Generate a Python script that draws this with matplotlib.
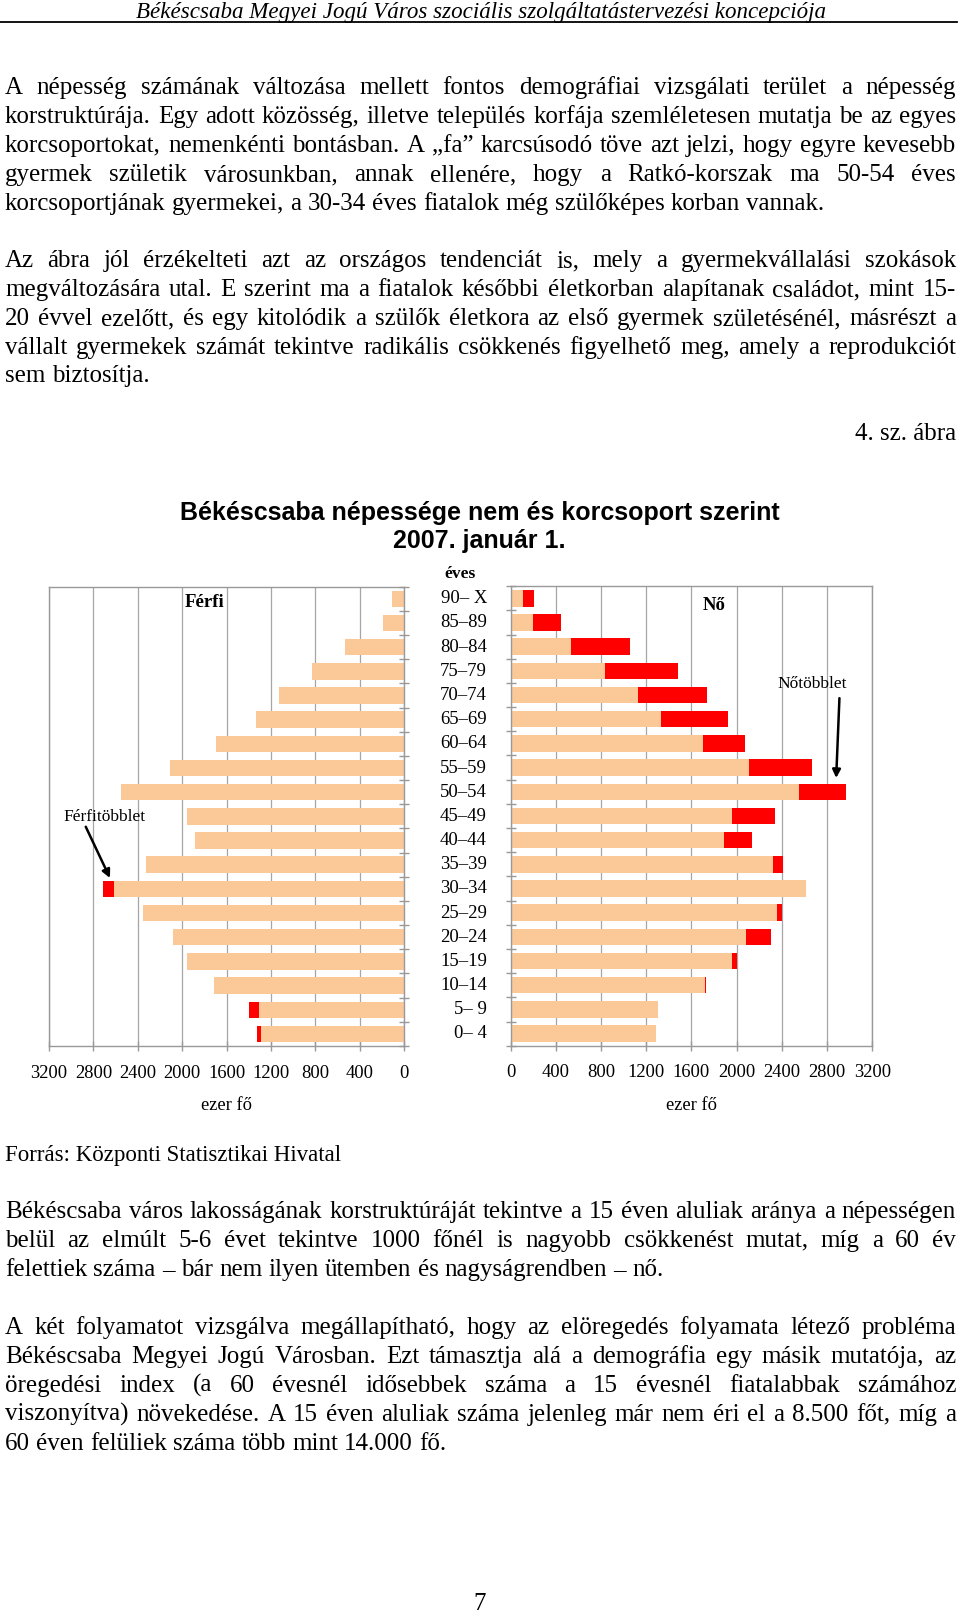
import numpy as np
import matplotlib
matplotlib.use("Agg")
import matplotlib.pyplot as plt
from matplotlib import transforms as mtransforms

# ---------------- data ----------------
age_groups = ["90– X", "85–89", "80–84", "75–79", "70–74", "65–69", "60–64",
              "55–59", "50–54", "45–49", "40–44", "35–39", "30–34", "25–29",
              "20–24", "15–19", "10–14", "5– 9", "0– 4"]
male = [108, 195, 535, 833, 1131, 1332, 1699, 2111, 2550, 1955, 1886, 2325,
        2716, 2355, 2084, 1955, 1717, 1395, 1326]
female = [210, 446, 1060, 1479, 1742, 1925, 2078, 2663, 2970, 2341, 2134, 2412,
          2616, 2400, 2300, 2007, 1730, 1305, 1290]
x_ticks = [0, 400, 800, 1200, 1600, 2000, 2400, 2800, 3200]
x_tick_labels = [str(v) for v in x_ticks]

header = "Békéscsaba Megyei Jogú Város szociális szolgáltatástervezési koncepciója"
title_lines = ["Békéscsaba népessége nem és korcsoport szerint", "2007. január 1."]

para1 = ["A népesség számának változása mellett fontos demográfiai vizsgálati terület a népesség",
         "korstruktúrája. Egy adott közösség, illetve település korfája szemléletesen mutatja be az egyes",
         "korcsoportokat, nemenkénti bontásban. A „fa” karcsúsodó töve azt jelzi, hogy egyre kevesebb",
         "gyermek születik városunkban, annak ellenére, hogy a Ratkó-korszak ma 50-54 éves",
         "korcsoportjának gyermekei, a 30-34 éves fiatalok még szülőképes korban vannak."]
para2 = ["Az ábra jól érzékelteti azt az országos tendenciát is, mely a gyermekvállalási szokások",
         "megváltozására utal. E szerint ma a fiatalok későbbi életkorban alapítanak családot, mint 15-",
         "20 évvel ezelőtt, és egy kitolódik a szülők életkora az első gyermek születésénél, másrészt a",
         "vállalt gyermekek számát tekintve radikális csökkenés figyelhető meg, amely a reprodukciót",
         "sem biztosítja."]
para3 = ["Békéscsaba város lakosságának korstruktúráját tekintve a 15 éven aluliak aránya a népességen",
         "belül az elmúlt 5-6 évet tekintve 1000 főnél is nagyobb csökkenést mutat, míg a 60 év",
         "felettiek száma – bár nem ilyen ütemben és nagyságrendben – nő."]
para4 = ["A két folyamatot vizsgálva megállapítható, hogy az elöregedés folyamata létező probléma",
         "Békéscsaba Megyei Jogú Városban. Ezt támasztja alá a demográfia egy másik mutatója, az",
         "öregedési index (a 60 évesnél idősebbek száma a 15 évesnél fiatalabbak számához",
         "viszonyítva) növekedése. A 15 éven aluliak száma jelenleg már nem éri el a 8.500 főt, míg a",
         "60 éven felüliek száma több mint 14.000 fő."]
source = "Forrás: Központi Statisztikai Hivatal"

# ---------------- page ----------------
W, H = 960, 1613
fig = plt.figure(figsize=(W / 100, H / 100), dpi=100)
fig.patch.set_facecolor("white")
renderer = fig.canvas.get_renderer()

SERIF = ["Liberation Serif", "DejaVu Serif"]
SANS = ["Liberation Sans", "DejaVu Sans"]
PEACH = "#FBC898"
RED = "#FF0000"
GRID = "#A6A6A6"


def fx(x):
    return x / W


def fy(y):
    return 1 - y / H


def width_of(s, **kw):
    t = fig.text(0, 0, s, **kw)
    w = t.get_window_extent(renderer).width
    t.remove()
    return w


BODY = dict(fontsize=18, family=SERIF, color="black")
X0, X1 = 5, 956
space_w = width_of("a a", **BODY) - 2 * width_of("a", **BODY)


def put_line(text, yc, justify=True):
    words = text.split(" ")
    widths = [width_of(w, **BODY) for w in words]
    if justify and len(words) > 1:
        gap = (X1 - X0 - sum(widths)) / (len(words) - 1)
    else:
        gap = space_w
    x = X0
    yb = round(yc + 7)
    for w, wd in zip(words, widths):
        fig.text(fx(x), fy(yb), w, va="baseline", ha="left", **BODY)
        x += wd + gap


def put_para(lines, y0, step=28.8):
    for i, ln in enumerate(lines):
        put_line(ln, y0 + i * step, justify=(i < len(lines) - 1))


# header
HDR = dict(family=SERIF, style="italic", color="black")
hs = 10 * 689 / width_of(header, fontsize=10, **HDR)
fig.text(fx(481.5), fy(18), header, ha="center", va="baseline", fontsize=hs, **HDR)
fig.add_artist(plt.Line2D([fx(0), fx(957)], [fy(21.6), fy(21.6)], color="black", lw=1.3))

put_para(para1, 87.5)
put_para(para2, 260.3)
fig.text(fx(956), fy(433.2 + 7), "4. sz. ábra", ha="right", va="baseline", **BODY)
fig.text(fx(X0), fy(1154.4 + 6.5), source, ha="left", va="baseline",
         fontsize=16.5, family=SERIF, color="black")
put_para(para3, 1211.0)
put_para(para4, 1327.3)
fig.text(fx(480), fy(1603 + 7), "7", ha="center", va="baseline", **BODY)

# chart title
TT = dict(family=SANS, weight="bold", color="black")
ts = 10 * 600 / width_of(title_lines[0], fontsize=10, **TT)
fig.text(fx(479.5), fy(513), title_lines[0], ha="center", va="center", fontsize=ts, **TT)
fig.text(fx(479.5), fy(541), title_lines[1], ha="center", va="center", fontsize=ts, **TT)

# ---------------- axes ----------------
n = len(age_groups)
ypos = np.arange(n)[::-1]
male_a = np.array(male)
female_a = np.array(female)
common = np.minimum(male_a, female_a)
male_excess = np.clip(male_a - female_a, 0, None)
female_excess = np.clip(female_a - male_a, 0, None)

axL = fig.add_axes([fx(49), fy(1046), (404.3 - 49) / W, (1046 - 586.7) / H])
axR = fig.add_axes([fx(510.7), fy(1045.7), 361.5 / W, (1045.7 - 586.2) / H])

BH = 0.68
axL.barh(ypos, common, height=BH, color=PEACH, zorder=2)
axL.barh(ypos, male_excess, left=common, height=BH, color=RED, zorder=2)
axR.barh(ypos, common, height=BH, color=PEACH, zorder=2)
axR.barh(ypos, female_excess, left=common, height=BH, color=RED, zorder=2)

for ax in (axL, axR):
    ax.set_ylim(-0.5, n - 0.5)
    ax.set_xticks(x_ticks)
    ax.set_xticklabels(x_tick_labels, fontfamily=SERIF, fontsize=13.3)
    ax.set_yticks(np.arange(n + 1) - 0.5)
    ax.set_yticklabels([])
    ax.grid(axis="x", color=GRID, lw=0.9, zorder=0)
    ax.set_axisbelow(True)
    for sp in ax.spines.values():
        sp.set_color("#999999")
        sp.set_linewidth(1.0)
    ax.tick_params(axis="both", direction="inout", length=7, color="#999999", width=1.0)
    ax.tick_params(axis="x", pad=10, labelcolor="black")

axL.set_xlim(3200, 0)
axL.yaxis.tick_right()
axR.set_xlim(0, 3200)
axR.yaxis.tick_left()

# age labels between the panels
blend = mtransforms.blended_transform_factory(fig.transFigure, axL.transData)
for yv, lab in zip(ypos, age_groups):
    fig.text(fx(487), yv, lab, transform=blend, ha="right", va="center",
             family=SERIF, fontsize=13.5)
fig.text(fx(460), fy(574), "éves", ha="center", va="center", family=SERIF,
         weight="bold", fontsize=12.5)

# axis titles
fig.text(fx(226.5), fy(1106), "ezer fő", ha="center", va="center", family=SERIF, fontsize=13.3)
fig.text(fx(691), fy(1106), "ezer fő", ha="center", va="center", family=SERIF, fontsize=13.3)

# panel labels
axL.text(1795, 17.83, "Férfi", ha="center", va="center", family=SERIF, weight="bold", fontsize=13.5)
axR.text(1802, 17.7, "Nő", ha="center", va="center", family=SERIF, weight="bold", fontsize=13.5)

# surplus annotations
axL.text(2696, 8.97, "Férfitöbblet", ha="center", va="center", family=SERIF, fontsize=12.5)
axL.annotate("", xy=(2651, 6.45), xytext=(2869, 8.57),
             arrowprops=dict(arrowstyle="-|>", color="black", lw=1.8, mutation_scale=12,
                             shrinkA=0, shrinkB=0))
axR.text(2668, 14.45, "Nőtöbblet", ha="center", va="center", family=SERIF, fontsize=12.5)
axR.annotate("", xy=(2881, 10.57), xytext=(2910, 13.87),
             arrowprops=dict(arrowstyle="-|>", color="black", lw=1.8, mutation_scale=12,
                             shrinkA=0, shrinkB=0))

fig.savefig("out.png", dpi=100, facecolor="white")
